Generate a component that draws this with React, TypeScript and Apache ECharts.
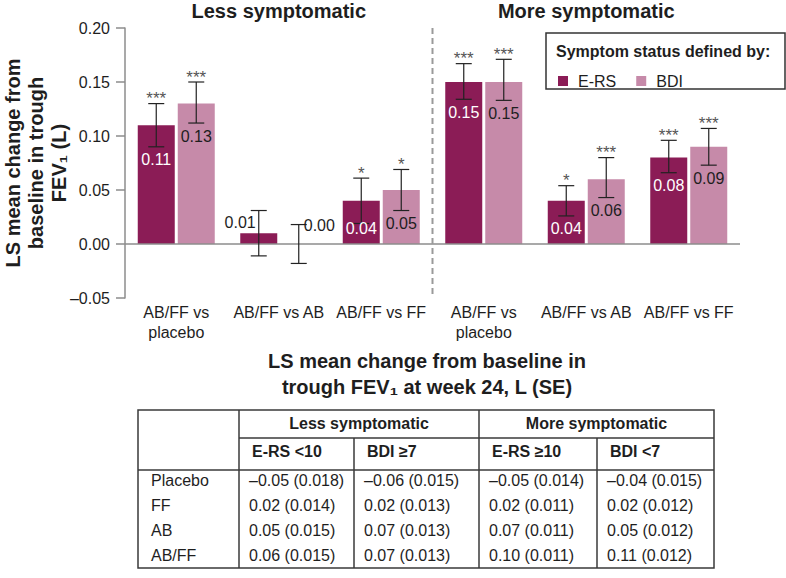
import React, { useEffect, useRef } from "react";
import * as echarts from "echarts";

// ---------- data ----------
const categories = [
  "AB/FF vs\nplacebo",
  "AB/FF vs AB",
  "AB/FF vs FF",
  "AB/FF vs\nplacebo",
  "AB/FF vs AB",
  "AB/FF vs FF",
];
const panelTitles = ["Less symptomatic", "More symptomatic"];
const seriesNames = ["E-RS", "BDI"];

const ersValues = [0.11, 0.01, 0.04, 0.15, 0.04, 0.08];
const ersLower = [0.09, -0.011, 0.019, 0.134, 0.026, 0.066];
const ersUpper = [0.13, 0.031, 0.061, 0.167, 0.054, 0.096];
const ersStars = ["***", "", "*", "***", "*", "***"];

const bdiValues = [0.13, 0.0, 0.05, 0.15, 0.06, 0.09];
const bdiLower = [0.112, -0.018, 0.031, 0.133, 0.043, 0.073];
const bdiUpper = [0.15, 0.018, 0.069, 0.171, 0.08, 0.107];
const bdiStars = ["***", "", "*", "***", "***", "***"];

const yTicksMin = -0.05;
const yTicksMax = 0.2;
const yTickStep = 0.05;
const splitAfterIndex = 2;

// table
const tableTitle = "LS mean change from baseline in\ntrough FEV\u2081 at week 24, L (SE)";
const tableGroupHeaders = ["Less symptomatic", "More symptomatic"];
const tableColHeaders = ["E-RS <10", "BDI \u22657", "E-RS \u226510", "BDI <7"];
const tableRowNames = ["Placebo", "FF", "AB", "AB/FF"];
const meanLessERS = [-0.05, 0.02, 0.05, 0.06];
const seLessERS = [0.018, 0.014, 0.015, 0.015];
const meanLessBDI = [-0.06, 0.02, 0.07, 0.07];
const seLessBDI = [0.015, 0.013, 0.013, 0.013];
const meanMoreERS = [-0.05, 0.02, 0.07, 0.1];
const seMoreERS = [0.014, 0.011, 0.011, 0.011];
const meanMoreBDI = [-0.04, 0.02, 0.05, 0.11];
const seMoreBDI = [0.015, 0.012, 0.012, 0.012];

// ---------- styles ----------
const FONT = '"Liberation Sans", Arial, Helvetica, sans-serif';
const ERS_COLOR = "#8b1c56";
const BDI_COLOR = "#c68aa9";
const TEXT = "#1e1e1e";
const AXIS_GREY = "#8c8c8c";
const BAR_W = 37;
const BAR_GAP = 3;
const OFFSET = (BAR_W + BAR_GAP) / 2;

const fmtNum = (v: number, d: number) =>
  (v < 0 ? "\u2013" : "") + Math.abs(v).toFixed(d);

function txt(
  x: number,
  y: number,
  text: string,
  opts: { size?: number; weight?: string; align?: string; vAlign?: string; fill?: string; lineHeight?: number; z?: number } = {}
) {
  const align = opts.align || "left";
  const vAlign = opts.vAlign || "middle";
  return {
    type: "text",
    x,
    y,
    z: opts.z ?? 10,
    silent: true,
    style: {
      text,
      fill: opts.fill || TEXT,
      fontSize: opts.size || 16,
      fontWeight: opts.weight || "normal",
      fontFamily: FONT,
      lineHeight: opts.lineHeight,
      align,
      verticalAlign: vAlign,
      textAlign: align,
      textVerticalAlign: vAlign,
    },
  };
}

function line(x1: number, y1: number, x2: number, y2: number, color = "#3a3a3a", w = 1.5) {
  return {
    type: "line",
    silent: true,
    z: 10,
    shape: { x1, y1, x2, y2 },
    style: { stroke: color, lineWidth: w },
  };
}

function makeErrorRender(stars: string[], side: number) {
  return (params: any, api: any) => {
    const i = params.dataIndex;
    const cat = api.value(0);
    const v = api.value(1);
    const base = api.coord([cat, 0]);
    const x = base[0] + side * OFFSET;
    const y0 = base[1];
    const yVal = api.coord([cat, v])[1];
    const yLo = api.coord([cat, api.value(2)])[1];
    const yHi = api.coord([cat, api.value(3)])[1];
    const capHalf = 8;
    const lineStyle = { stroke: "#222", lineWidth: 1.2 };
    const children: any[] = [
      { type: "line", shape: { x1: x, y1: yLo, x2: x, y2: yHi }, style: lineStyle },
      { type: "line", shape: { x1: x - capHalf, y1: yHi, x2: x + capHalf, y2: yHi }, style: lineStyle },
      { type: "line", shape: { x1: x - capHalf, y1: yLo, x2: x + capHalf, y2: yLo }, style: lineStyle },
    ];
    if (stars[i]) {
      children.push({
        type: "text",
        x,
        y: yHi - 5,
        style: {
          text: stars[i],
          fill: "#555",
          fontSize: 17,
          fontFamily: FONT,
          align: "center",
          verticalAlign: "middle",
          textAlign: "center",
          textVerticalAlign: "middle",
        },
      });
    }
    const label = v.toFixed(2);
    let lx = x;
    let ly: number;
    let align = "center";
    let fill = TEXT;
    if (v >= 0.03) {
      ly = Math.min(yLo + 13, y0 - 16);
      fill = side < 0 ? "#ffffff" : TEXT;
    } else if (side < 0) {
      lx = x - 3;
      ly = yVal - 11;
      align = "right";
    } else {
      lx = x + 5;
      ly = yVal - 19;
      align = "left";
    }
    children.push({
      type: "text",
      x: lx,
      y: ly,
      style: {
        text: label,
        fill,
        fontSize: 16,
        fontFamily: FONT,
        align,
        verticalAlign: "middle",
        textAlign: align,
        textVerticalAlign: "middle",
      },
    });
    if (side < 0 && i === splitAfterIndex) {
      const bw = api.size([1, 0])[0];
      const sx = base[0] + bw / 2;
      const cs = params.coordSys;
      children.push({
        type: "line",
        shape: { x1: sx, y1: cs.y, x2: sx, y2: cs.y + cs.height },
        style: { stroke: "#9a9a9a", lineWidth: 2, lineDash: [6, 4] },
      });
    }
    return { type: "group", children };
  };
}

export default function App() {
  const ref = useRef<HTMLDivElement>(null);

  useEffect(() => {
    document.body.style.margin = "0";
    if (!ref.current) return;
    const chart = echarts.init(ref.current, null, { renderer: "svg" });

    // table graphics
    const TX = [138, 239, 354, 479, 597, 714];
    const TY_TOP = 410;
    const TY_H1 = 438;
    const TY_H2 = 470;
    const TY_BOTTOM = 568;
    const rowY = [480, 505, 530, 555];
    const cols = [
      [meanLessERS, seLessERS],
      [meanLessBDI, seLessBDI],
      [meanMoreERS, seMoreERS],
      [meanMoreBDI, seMoreBDI],
    ];
    const tableEls: any[] = [
      txt(427, 374, tableTitle, { size: 20, weight: "bold", align: "center", lineHeight: 26 }),
      {
        type: "rect",
        silent: true,
        z: 10,
        shape: { x: TX[0], y: TY_TOP, width: TX[5] - TX[0], height: TY_BOTTOM - TY_TOP },
        style: { fill: "none", stroke: "#3a3a3a", lineWidth: 1.5 },
      },
      line(TX[1], TY_H1, TX[5], TY_H1),
      line(TX[0], TY_H2, TX[5], TY_H2),
      line(TX[1], TY_TOP, TX[1], TY_BOTTOM),
      line(TX[3], TY_TOP, TX[3], TY_BOTTOM),
      line(TX[2], TY_H1, TX[2], TY_BOTTOM),
      line(TX[4], TY_H1, TX[4], TY_BOTTOM),
      txt((TX[1] + TX[3]) / 2, 423, tableGroupHeaders[0], { weight: "bold", align: "center" }),
      txt((TX[3] + TX[5]) / 2, 423, tableGroupHeaders[1], { weight: "bold", align: "center" }),
    ];
    tableColHeaders.forEach((h, c) => {
      tableEls.push(txt(TX[c + 1] + 13, 451, h, { weight: "bold" }));
    });
    tableRowNames.forEach((r, ri) => {
      tableEls.push(txt(TX[0] + 13, rowY[ri], r));
      cols.forEach(([means, ses], c) => {
        tableEls.push(
          txt(TX[c + 1] + 10, rowY[ri], `${fmtNum(means[ri], 2)} (${ses[ri].toFixed(3)})`)
        );
      });
    });

    const option: any = {
      animation: false,
      backgroundColor: "#ffffff",
      textStyle: { fontFamily: FONT },
      grid: {
        left: 125,
        right: 46,
        top: 28,
        bottom: 280,
        containLabel: false,
        outerBoundsMode: "none",
      },
      legend: {
        data: seriesNames,
        left: 553,
        top: 68,
        icon: "rect",
        itemWidth: 10,
        itemHeight: 10,
        itemGap: 20,
        selectedMode: false,
        textStyle: { fontSize: 16, color: TEXT, fontFamily: FONT, padding: [0, 0, 0, 5] },
        z: 20,
      },
      xAxis: {
        type: "category",
        data: categories,
        axisLine: { show: false, onZero: false },
        axisTick: { show: false },
        splitLine: { show: false },
        axisLabel: {
          interval: 0,
          fontSize: 16,
          lineHeight: 20,
          margin: 4,
          color: TEXT,
          fontFamily: FONT,
        },
      },
      yAxis: {
        type: "value",
        min: yTicksMin,
        max: yTicksMax,
        interval: yTickStep,
        name: "LS mean change from\nbaseline in trough\nFEV\u2081 (L)",
        nameLocation: "middle",
        nameGap: 55,
        nameRotate: 90,
        nameMoveOverlap: false,
        nameTextStyle: {
          fontSize: 20,
          fontWeight: "bold",
          lineHeight: 23,
          color: TEXT,
          fontFamily: FONT,
        },
        axisLine: { show: true, lineStyle: { color: AXIS_GREY, width: 1.5 } },
        axisTick: { show: true, length: 9, lineStyle: { color: AXIS_GREY, width: 1.5 } },
        splitLine: { show: false },
        axisLabel: {
          fontSize: 16,
          color: TEXT,
          margin: 15,
          fontFamily: FONT,
          formatter: (v: number) => fmtNum(v, 2),
        },
      },
      graphic: [
        txt(278.75, 11, panelTitles[0], { size: 20, weight: "bold", align: "center" }),
        txt(586.25, 11, panelTitles[1], { size: 20, weight: "bold", align: "center" }),
        {
          type: "rect",
          silent: true,
          z: 5,
          shape: { x: 546, y: 33, width: 239, height: 56 },
          style: { fill: "#ffffff", stroke: "#333333", lineWidth: 1.5 },
        },
        txt(556, 51, "Symptom status defined by:", { weight: "bold", z: 11 }),
        ...tableEls,
      ],
      series: [
        {
          name: seriesNames[0],
          type: "bar",
          data: ersValues,
          barWidth: BAR_W,
          barGap: `${(BAR_GAP / BAR_W) * 100}%`,
          itemStyle: { color: ERS_COLOR },
          silent: true,
          markLine: {
            silent: true,
            symbol: "none",
            label: { show: false },
            lineStyle: { color: AXIS_GREY, width: 1.5, type: "solid" },
            data: [{ yAxis: 0 }],
          },
        },
        {
          name: seriesNames[1],
          type: "bar",
          data: bdiValues,
          barWidth: BAR_W,
          barGap: `${(BAR_GAP / BAR_W) * 100}%`,
          itemStyle: { color: BDI_COLOR },
          silent: true,
        },
        {
          name: "E-RS error",
          type: "custom",
          data: ersValues.map((v, i) => [i, v, ersLower[i], ersUpper[i]]),
          renderItem: makeErrorRender(ersStars, -1),
          encode: { x: 0, y: 1 },
          silent: true,
          z: 5,
        },
        {
          name: "BDI error",
          type: "custom",
          data: bdiValues.map((v, i) => [i, v, bdiLower[i], bdiUpper[i]]),
          renderItem: makeErrorRender(bdiStars, 1),
          encode: { x: 0, y: 1 },
          silent: true,
          z: 5,
        },
      ],
    };
    chart.setOption(option);
    return () => chart.dispose();
  }, []);

  return (
    <div
      ref={ref}
      style={{ position: "fixed", left: 0, top: 0, width: 786, height: 578, background: "#fff" }}
    />
  );
}
